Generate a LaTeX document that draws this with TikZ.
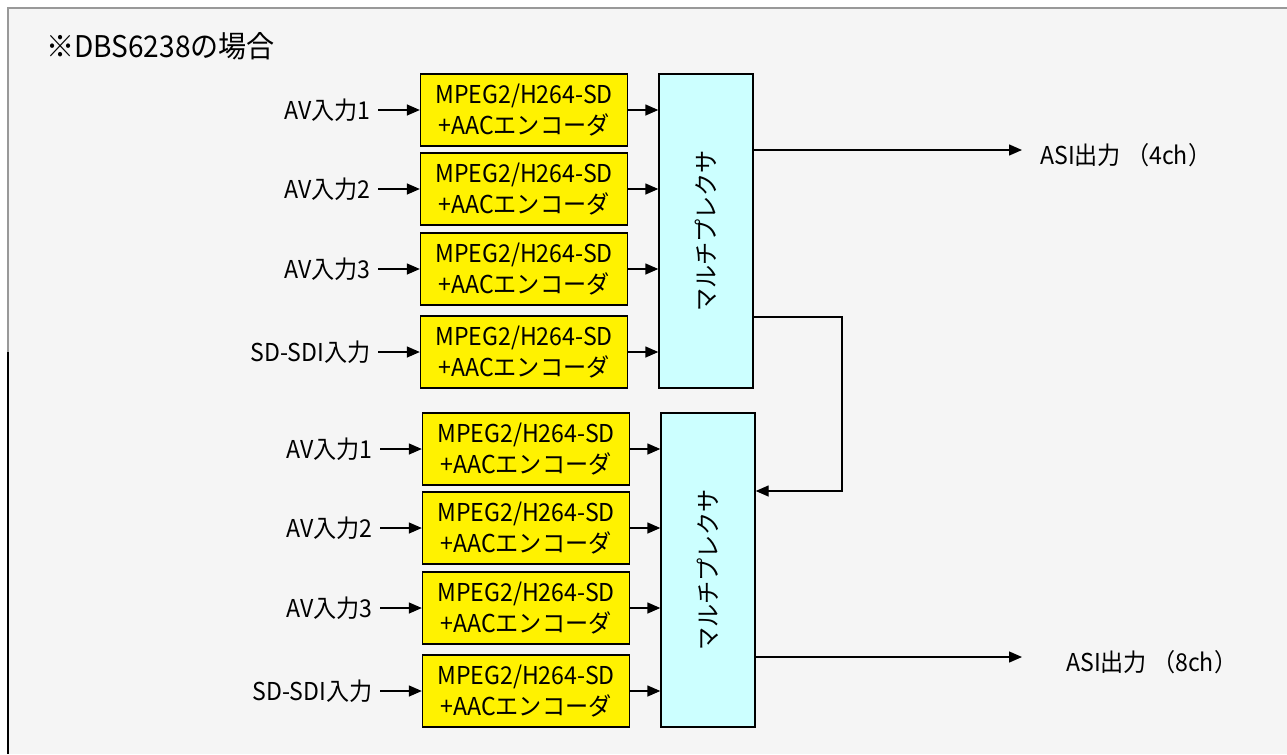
\documentclass[tikz,border=0pt]{standalone}
\usepackage{fontspec}
\usepackage{graphicx}
\setmainfont{Noto Sans CJK JP}[FakeStretch=0.94]
\definecolor{celeste}{RGB}{204,255,255}
\usetikzlibrary{arrows.meta}

\begin{document}
\begin{tikzpicture}[x=0.02cm, y=-0.02cm, font=\fontsize{14}{18}\selectfont,
    codificador/.style={draw, fill=yellow, line width=0.8pt, minimum width=4.14cm,
        minimum height=1.44cm, inner sep=0pt, align=center},
    multiplexor/.style={draw, fill=celeste, line width=0.8pt, minimum width=1.88cm,
        minimum height=6.28cm, inner sep=0pt},
    entrada/.style={anchor=east, inner sep=4pt},
    flecha/.style={-{Triangle[length=2.6mm, width=2.2mm]}, line width=0.8pt}]

    % fondo y marco
    \useasboundingbox (0,0) rectangle (1287,754);
    \fill[black!4] (8,8) rectangle (1287,754);
    \draw[gray!80, line width=1.4pt] (8,754) -- (8,8) -- (1287,8);
    \draw[black, line width=0.6pt] (8,352) -- (8,754);

    % #1 = altura, #2 = entrada, #3 = nombre, #4 = multiplexor
    \newcommand{\fila}[4]{%
        \node[codificador] (#3) at (524,#1) {MPEG2/H264-SD\\+AACエンコーダ};
        \node[entrada] (#3e) at (378,#1) {#2};
        \draw[flecha] (#3e) -- (#3);
        \draw[flecha] (#3) -- (#3 -| #4.west);}

    % #1 = desplazamiento, #2 = nombre del multiplexor
    \newcommand{\grupo}[2]{%
        \begin{scope}[shift={#1}]
            \node[multiplexor] (#2) at (706,231) {\rotatebox{90}{マルチプレクサ}};
            \fila{110}{AV入力1}{#2a}{#2}
            \fila{189}{AV入力2}{#2b}{#2}
            \fila{269}{AV入力3}{#2c}{#2}
            \fila{352}{SD-SDI入力}{#2d}{#2}
        \end{scope}}

    \node[anchor=west, font=\fontsize{17}{20}\selectfont] (titulo) at (40,46) {※DBS6238の場合};

    \grupo{(0,0)}{muxA}
    \grupo{(2,339)}{muxB}

    % salidas
    \coordinate (finA) at (1022,150);
    \coordinate (finB) at (1022,657);
    \node[anchor=west] (asiA) at (1034,155) {ASI出力 （4ch）};
    \node[anchor=west] (asiB) at (1060,662) {ASI出力 （8ch）};
    \draw[flecha] (muxA.east |- finA) -- (finA);
    \draw[flecha] (muxB.east |- finB) -- (finB);

    % cascada
    \coordinate (vuelta) at (842,317);
    \draw[flecha] (muxA.east |- vuelta) -- (vuelta) |- (muxB.east |- 0,491);

\end{tikzpicture}
\end{document}
